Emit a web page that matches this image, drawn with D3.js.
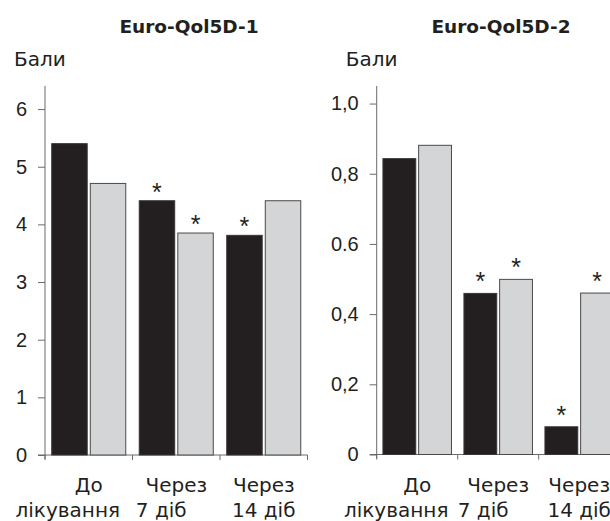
<!DOCTYPE html>
<html lang="uk">
<head>
<meta charset="UTF-8" />
<title>Euro-Qol5D</title>
<script src="https://d3js.org/d3.v7.min.js"></script>
<style>
  body { margin: 0; background: #fff; }
  svg { display: block; font-family: "DejaVu Sans", sans-serif; }
  .title { font-weight: bold; font-size: 18.5px; fill: #231f20; }
  .unit, .tick text, .xlab { font-size: 20px; fill: #231f20; }
  .domain, .tick line, .xaxis line { stroke: #6a6a6a; }
</style>
</head>
<body>
<svg width="610" height="521"></svg>
<script>
// categories (two-line labels)
const line1 = ["До", "Через", "Через"];
const line2 = ["лікування", "7 діб", "14 діб"];
const series = ["a", "b"];

// Euro-Qol5D-1
const q1Dark  = [5.40, 4.41, 3.81];
const q1Light = [4.71, 3.85, 4.41];
const q1Star  = [[false, false], [true, true], [true, false]];
const q1Ticks = [0, 1, 2, 3, 4, 5, 6];
const q1TickLabels = ["0", "1", "2", "3", "4", "5", "6"];

// Euro-Qol5D-2
const q2Dark  = [0.843, 0.459, 0.079];
const q2Light = [0.881, 0.499, 0.46];
const q2Star  = [[false, false], [true, true], [true, true]];
const q2Ticks = [0, 0.2, 0.4, 0.6, 0.8, 1.0];
const q2TickLabels = ["0", "0,2", "0,4", "0.6", "0,8", "1,0"];

const colors = ["#231f20", "#d4d5d7"];
const svg = d3.select("svg");

function panel(o) {
  const g = svg.append("g");
  const y = d3.scaleLinear().domain([0, o.ymax]).range([o.y0, 86]);
  const x0 = d3.scaleBand().domain(d3.range(line1.length))
    .range([o.left, o.left + 3 * o.step]).paddingInner(0.154).paddingOuter(0.077);
  const x1 = d3.scaleBand().domain(series).range([0, x0.bandwidth()]).paddingInner(0.08);

  g.append("text").attr("class", "title")
    .attr("x", o.titleX).attr("y", 33).attr("text-anchor", "middle").text(o.title);
  g.append("text").attr("class", "unit")
    .attr("x", o.left - 31).attr("y", 66).text("Бали");

  // x axis line and boundary ticks
  const xa = g.append("g").attr("class", "xaxis");
  xa.append("line").attr("x1", o.left - 7).attr("x2", x0.range()[1])
    .attr("y1", y(0)).attr("y2", y(0));
  xa.selectAll("line.t").data(d3.range(line1.length + 1)).join("line").attr("class", "t")
    .attr("x1", i => x0.range()[0] + i * x0.step()).attr("x2", i => x0.range()[0] + i * x0.step())
    .attr("y1", y(0)).attr("y2", y(0) + 5);

  const groups = g.selectAll("g.grp").data(d3.range(line1.length)).join("g")
    .attr("class", "grp").attr("transform", i => `translate(${x0(i)},0)`);

  const pair = i => [
    { k: "a", v: o.dark[i], s: o.star[i][0] },
    { k: "b", v: o.light[i], s: o.star[i][1] }];

  groups.selectAll("rect").data(pair)
    .join("rect")
    .attr("x", d => x1(d.k)).attr("width", x1.bandwidth())
    .attr("y", d => y(d.v)).attr("height", d => y(0) - y(d.v))
    .attr("fill", (d, j) => colors[j])
    .attr("stroke", (d, j) => j ? "#4a4a4a" : "#3a3536").attr("stroke-width", 1);

  groups.selectAll("text.star").data(i => pair(i).filter(d => d.s))
    .join("text").attr("class", "star")
    .attr("x", d => x1(d.k) + x1.bandwidth() / 2).attr("y", d => y(d.v) + o.starDy)
    .attr("text-anchor", "middle").attr("font-size", 25).attr("fill", "#231f20")
    .style("font-family", "'Liberation Sans', sans-serif")
    .text("*");

  // y axis
  const ya = g.append("g").attr("transform", `translate(${o.left},0)`)
    .call(d3.axisLeft(y).tickValues(o.ticks).tickFormat((d, i) => o.tickLabels[i])
      .tickSize(7).tickPadding(11));
  ya.select(".domain").attr("d", `M0,${y(0) + 4}V86`);

  // category labels
  const off2 = [-21, -15, 0];
  g.selectAll("text.l1").data(line1).join("text").attr("class", "xlab l1")
    .attr("x", (d, i) => x0(i) + x0.bandwidth() / 2).attr("y", 492)
    .attr("text-anchor", "middle").text(d => d);
  g.selectAll("text.l2").data(line2).join("text").attr("class", "xlab l2")
    .attr("x", (d, i) => x0(i) + x0.bandwidth() / 2 + off2[i]).attr("y", 517)
    .attr("text-anchor", "middle").text(d => d);
}

panel({ title: "Euro-Qol5D-1", titleX: 189, left: 45, step: 87.5, y0: 455, ymax: 6.4, starDy: 0,
  dark: q1Dark, light: q1Light, star: q1Star, ticks: q1Ticks, tickLabels: q1TickLabels });
panel({ title: "Euro-Qol5D-2", titleX: 501, left: 376.7, step: 81, y0: 454.5, ymax: 1.05, starDy: -3,
  dark: q2Dark, light: q2Light, star: q2Star, ticks: q2Ticks, tickLabels: q2TickLabels });
</script>
</body>
</html>
